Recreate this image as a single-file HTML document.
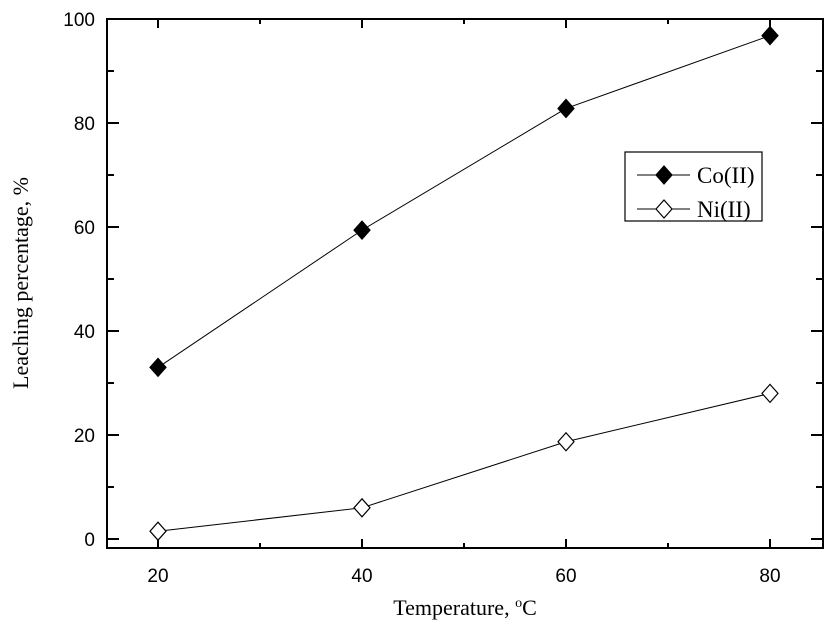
<!DOCTYPE html>
<html><head><meta charset="utf-8"><style>
body{margin:0;background:#fff}
svg{display:block}
</style></head><body>
<svg width="837" height="634" xmlns="http://www.w3.org/2000/svg">
<g id="plot"></g>
</svg>
<script>
const temps=[20,40,60,80];
const coValues=[33,59.4,82.8,96.8];
const niValues=[1.5,6,18.7,28];
const xTicks=[20,40,60,80];
const yTicks=[0,20,40,60,80,100];
const L=107,R=823,T=19,B=548;
const xs=v=>158+(v-20)*10.2;
const ys=v=>539-v*5.2;
const NS='http://www.w3.org/2000/svg';
const g=document.getElementById('plot');
function mk(t,a,p){const e=document.createElementNS(NS,t);for(const k in a)e.setAttribute(k,a[k]);(p||g).appendChild(e);return e;}
const frame=mk('rect',{x:L,y:T,width:R-L,height:B-T,fill:'none',stroke:'#000','stroke-width':2});


// x ticks
for(let v=20;v<=80;v+=10){const x=xs(v);const len=v%20===0?9:5;
const t1=mk('line',{x1:x,y1:B,x2:x,y2:B-len,stroke:'#000','stroke-width':2});


const t2=mk('line',{x1:x,y1:T,x2:x,y2:T+len,stroke:'#000','stroke-width':2});

}
xTicks.forEach(v=>{const t=mk('text',{x:xs(v),y:582,'text-anchor':'middle','font-family':'Liberation Sans, sans-serif','font-size':19});t.textContent=v;

});
for(let v=0;v<=100;v+=10){const y=ys(v);const len=v%20===0?12:7;
const t1=mk('line',{x1:L,y1:y,x2:L+len,y2:y,stroke:'#000','stroke-width':2});


const t2=mk('line',{x1:R,y1:y,x2:R-len,y2:y,stroke:'#000','stroke-width':2});

}
yTicks.forEach(v=>{const t=mk('text',{x:95,y:ys(v)+7,'text-anchor':'end','font-family':'Liberation Sans, sans-serif','font-size':19});t.textContent=v;

});
const xt=mk('text',{x:465,y:615,'text-anchor':'middle','font-family':'Liberation Serif, serif','font-size':22});
xt.innerHTML='Temperature, <tspan dy="-8" font-size="14">o</tspan><tspan dy="8">C</tspan>';


const yt=mk('text',{x:0,y:0,'text-anchor':'middle','font-family':'Liberation Serif, serif','font-size':22,transform:'translate(28,283) rotate(-90)'});
yt.textContent='Leaching percentage, %';


function diamond(x,y,fill,name){const d=mk('polygon',{points:`${x},${y-9} ${x+8},${y} ${x},${y+9} ${x-8},${y}`,fill:fill,stroke:'#000','stroke-width':1.2});

}
function series(vals,fill,name){const pl=mk('polyline',{points:vals.map((v,i)=>xs(temps[i])+','+ys(v)).join(' '),fill:'none',stroke:'#000','stroke-width':1});


vals.forEach((v,i)=>diamond(xs(temps[i]),ys(v),fill,name+'-point'));}
series(coValues,'#000','co');
series(niValues,'#fff','ni');
const lb=mk('rect',{x:625,y:152,width:137,height:69,fill:'#fff',stroke:'#000','stroke-width':1.2});


[['Co(II)','#000',175],['Ni(II)','#fff',209]].forEach(([n,f,y])=>{
const l=mk('line',{x1:637,y1:y,x2:690,y2:y,stroke:'#000','stroke-width':1});


diamond(664,y,f,'legend-marker');
const t=mk('text',{x:697,y:y+8,'font-family':'Liberation Serif, serif','font-size':23});t.textContent=n;

});
</script>
</body></html>
